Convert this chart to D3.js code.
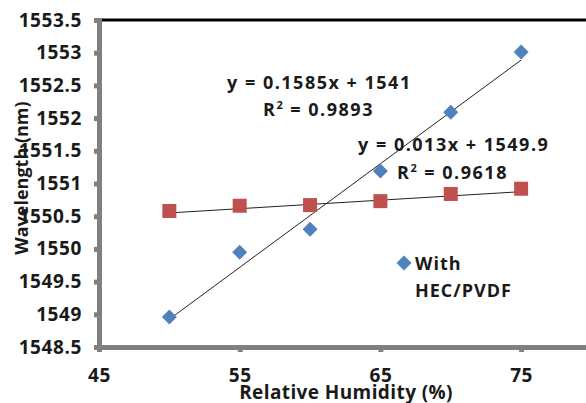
<!DOCTYPE html>
<html>
<head>
<meta charset="utf-8">
<script src="https://cdn.jsdelivr.net/npm/d3@7"></script>
<style>
  body { margin: 0; background: #fff; }
  svg { display: block; }
  text { font-family: "Open Sans", Lato, sans-serif; font-weight: bold; fill: #1a1a1a; }
</style>
</head>
<body>
<script>
// humidity steps (%)
const humidity = [50, 55, 60, 65, 70, 75];
// with HEC/PVDF coating (blue diamonds)
const withCoating = [1548.96, 1549.95, 1550.3, 1551.19, 1552.09, 1553.01];
// without coating (red squares)
const withoutCoating = [1550.58, 1550.66, 1550.67, 1550.73, 1550.84, 1550.92];

// fitted trendlines as printed on the chart
const fitWith = { slope: 0.1585, intercept: 1541 };
const fitWithout = { slope: 0.013, intercept: 1549.9 };

const xTicks = [45, 55, 65, 75];
const yTicks = [1548.5, 1549, 1549.5, 1550, 1550.5, 1551, 1551.5, 1552, 1552.5, 1553, 1553.5];

const width = 586, height = 403;
const BLUE = "#4F81BD", RED = "#C0504D", AXIS = "#808080";

const svg = d3.select("body").append("svg")
  .attr("width", width)
  .attr("height", height);

// x axis runs on past the right edge (chart is cropped there)
const x = d3.scaleLinear().domain([45, 85]).range([99, 99 + 40 * 14.07]);
const y = d3.scaleLinear().domain([1548.5, 1553.5]).range([347, 20]);

// top border of the plot area
svg.append("line")
  .attr("x1", x(45)).attr("x2", width)
  .attr("y1", y(1553.5)).attr("y2", y(1553.5))
  .attr("stroke", "#000").attr("stroke-width", 3);

// axes
const xAxis = svg.append("g")
  .attr("transform", `translate(0,${y(1548.5)})`)
  .call(d3.axisBottom(x).tickValues(xTicks).tickSize(5).tickPadding(17).tickFormat(d3.format("d")));
const yAxis = svg.append("g")
  .attr("transform", `translate(${x(45)},0)`)
  .call(d3.axisLeft(y).tickValues(yTicks).tickSize(5).tickPadding(16).tickFormat(d => d));

[xAxis, yAxis].forEach(g => {
  g.select(".domain").attr("stroke", AXIS).attr("stroke-width", 5);
  g.selectAll(".tick line").attr("stroke", AXIS).attr("stroke-width", 5);
  g.selectAll(".tick text")
    .style("font-family", "'Open Sans', Lato, sans-serif")
    .style("font-weight", "bold")
    .style("letter-spacing", "0.6px")
    .attr("font-size", 19)
    .attr("fill", "#1a1a1a");
});
yAxis.selectAll(".tick text").attr("dx", 4);

// trendlines
const trend = [[fitWith, "#222"], [fitWithout, "#222"]];
trend.forEach(([f, c]) => {
  const x0 = d3.min(humidity), x1 = d3.max(humidity);
  svg.append("line")
    .attr("x1", x(x0)).attr("y1", y(f.slope * x0 + f.intercept))
    .attr("x2", x(x1)).attr("y2", y(f.slope * x1 + f.intercept))
    .attr("stroke", c).attr("stroke-width", 1);
});

// red squares
svg.selectAll("rect.sq")
  .data(humidity.map((h, i) => [h, withoutCoating[i]]))
  .enter().append("rect")
  .attr("class", "sq")
  .attr("x", d => x(d[0]) - 7).attr("y", d => y(d[1]) - 7)
  .attr("width", 14).attr("height", 14)
  .attr("fill", RED);

// blue diamonds
const diamond = "M0,-7.5L7.5,0L0,7.5L-7.5,0Z";
svg.selectAll("path.dm")
  .data(humidity.map((h, i) => [h, withCoating[i]]))
  .enter().append("path")
  .attr("class", "dm")
  .attr("d", diamond)
  .attr("transform", d => `translate(${x(d[0])},${y(d[1])})`)
  .attr("fill", BLUE);

// equations
const eq = (tx, ty, parts) => {
  const t = svg.append("text").attr("x", tx).attr("y", ty)
    .attr("font-size", 18).style("letter-spacing", "1.5px");
  parts.forEach(p => {
    const s = t.append("tspan").text(p.t);
    if (p.sup) s.attr("font-size", 11).attr("baseline-shift", "super");
  });
};
eq(227, 89, [{ t: "y = 0.1585x + 1541" }]);
eq(263, 116, [{ t: "R" }, { t: "2", sup: true }, { t: " = 0.9893" }]);
eq(358, 151, [{ t: "y = 0.013x + 1549.9" }]);
eq(397, 179, [{ t: "R" }, { t: "2", sup: true }, { t: " = 0.9618" }]);

// legend
svg.append("path").attr("d", diamond)
  .attr("transform", "translate(404,263)")
  .attr("fill", BLUE);
svg.append("text").attr("x", 415).attr("y", 270).attr("font-size", 18)
  .style("letter-spacing", "1px").text("With");
svg.append("text").attr("x", 415).attr("y", 297).attr("font-size", 18)
  .style("letter-spacing", "1px").text("HEC/PVDF");

// axis titles
svg.append("text")
  .attr("x", 346).attr("y", 399)
  .attr("text-anchor", "middle").attr("font-size", 19)
  .style("letter-spacing", "0.4px")
  .text("Relative Humidity (%)");
svg.append("text")
  .attr("transform", "translate(28,178) rotate(-90)")
  .attr("text-anchor", "middle").attr("font-size", 18)
  .text("Wavelength (nm)");
</script>
</body>
</html>
